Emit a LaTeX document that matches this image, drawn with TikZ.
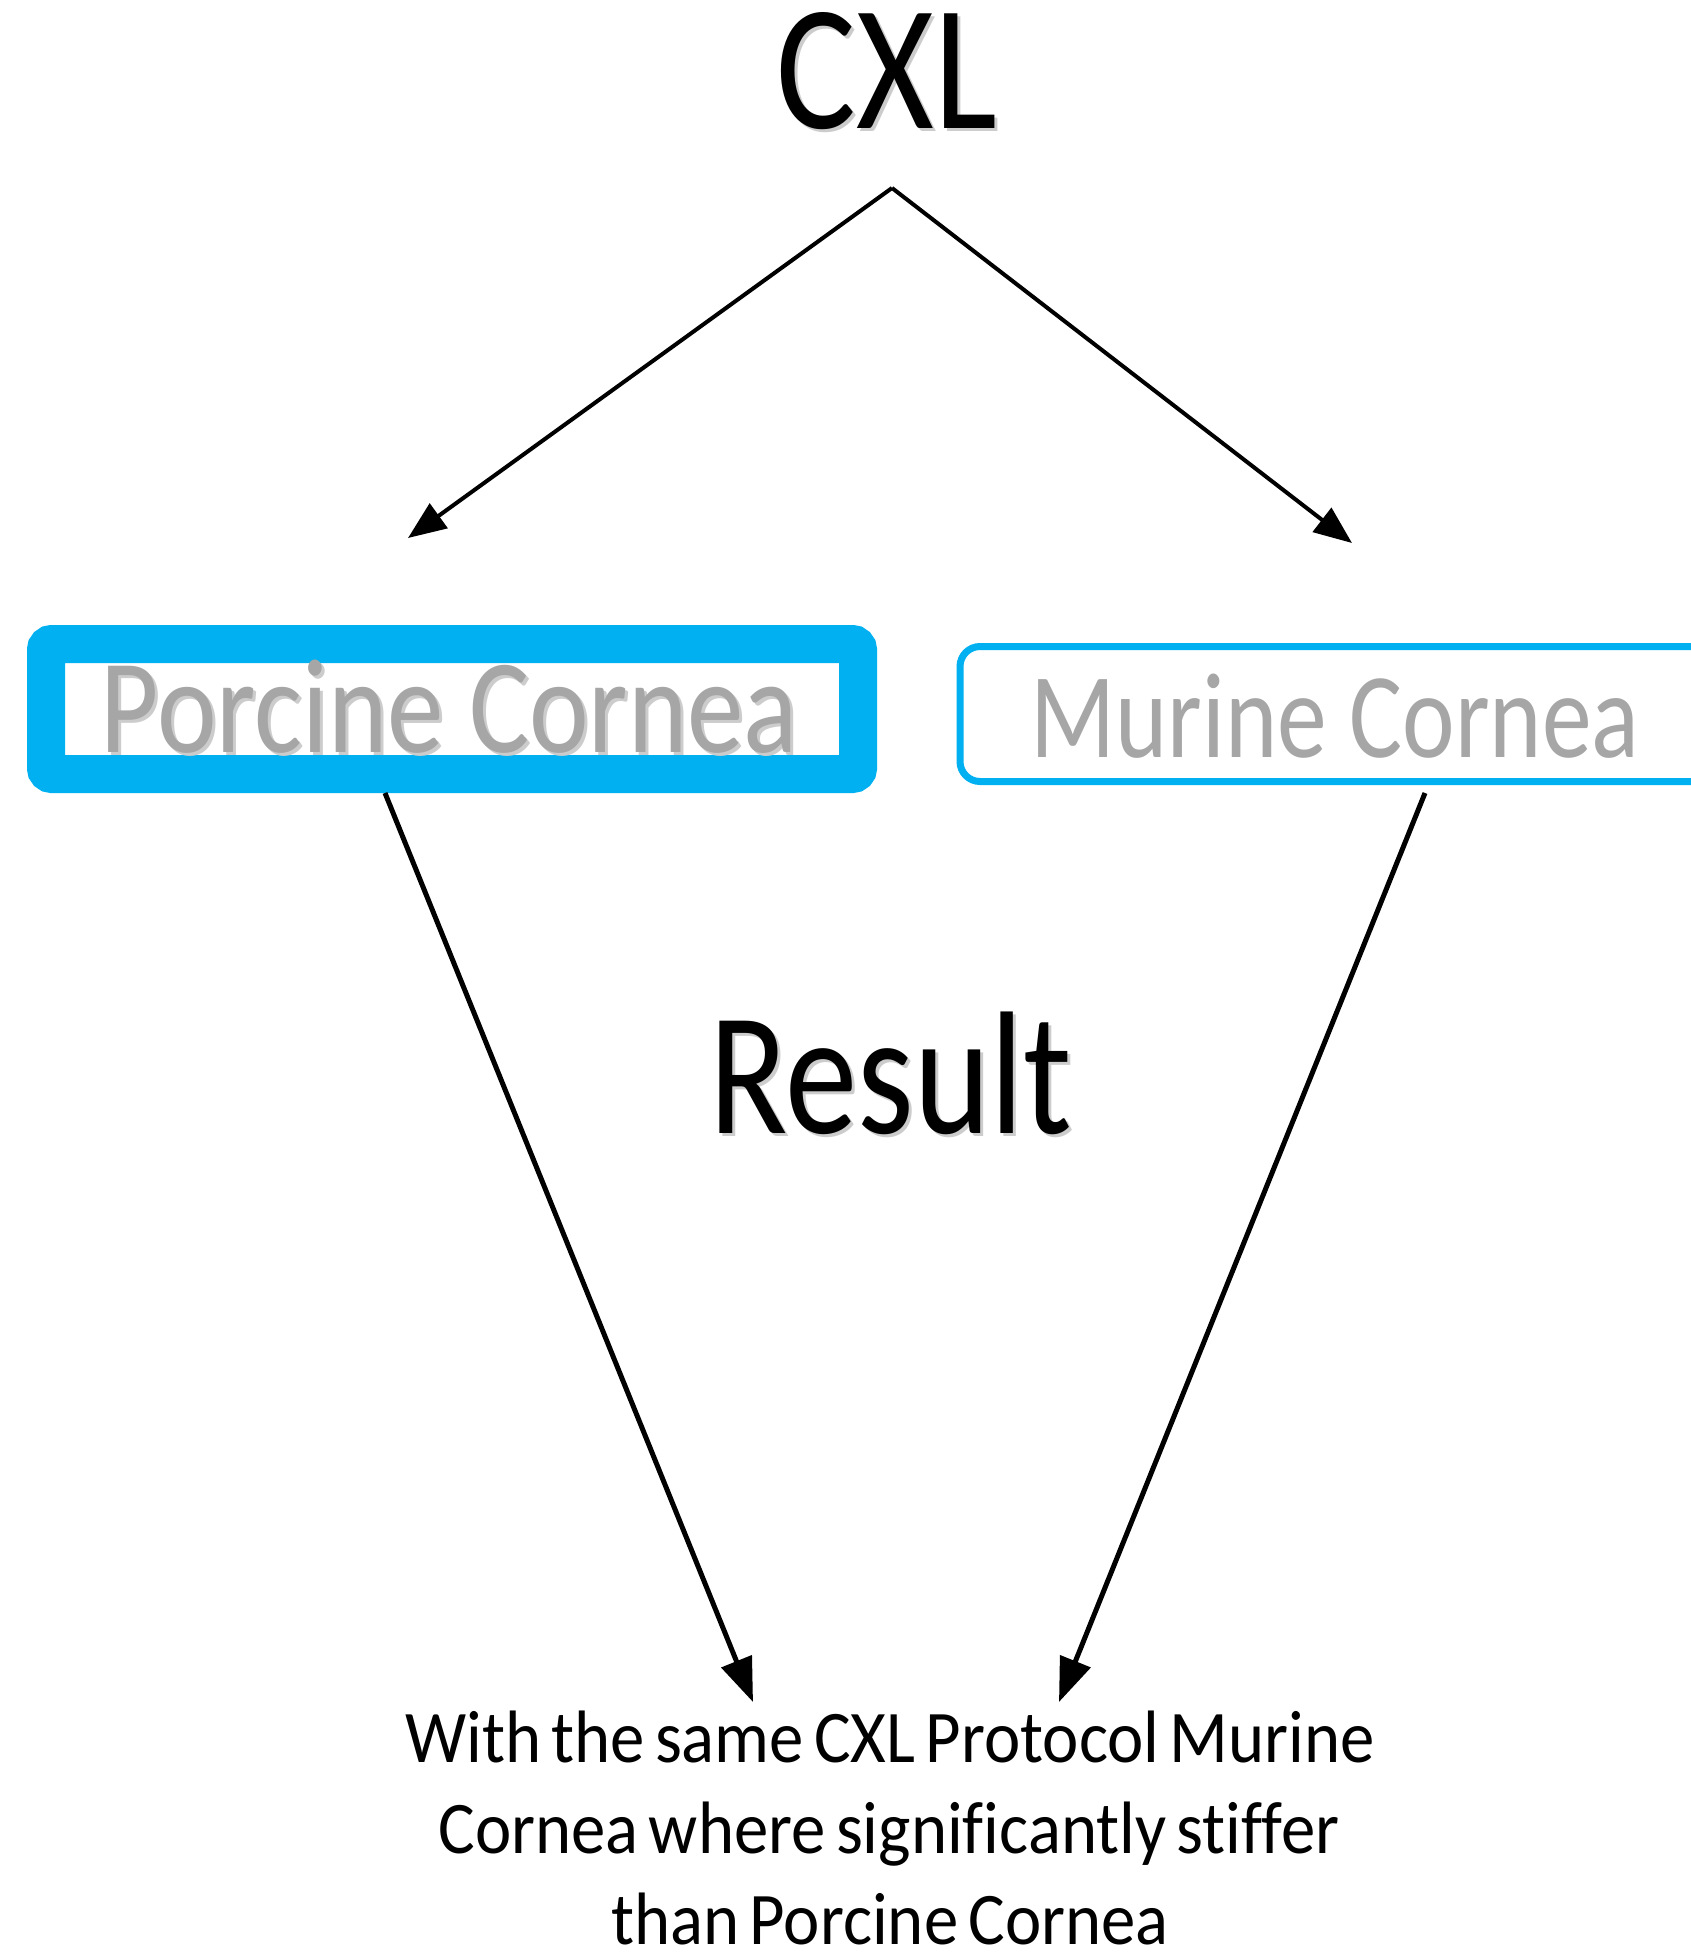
\documentclass[tikz,border=0pt]{standalone}
\usepackage{fontspec}
\setmainfont{Carlito}[Ligatures=NoCommon]
\usetikzlibrary{arrows.meta}
\definecolor{cxlcyan}{HTML}{00B0F0}
\definecolor{labelgray}{HTML}{A6A6A6}
\newcommand{\vstretch}[2]{\scalebox{1}[#1]{#2}}
\newcommand{\conclline}[1]{\fontsize{64}{64}\selectfont\spaceskip=0.15em\scalebox{1.074}[1.16]{#1}}
\begin{document}
\begin{tikzpicture}[x=1pt,y=-1pt,
  txt/.style={anchor=base,inner sep=0pt,text=black},
  shadowtxt/.style={anchor=base,inner sep=0pt,text=black!20},
  arrowup/.style={line width=4pt,-{Triangle[length=38pt,width=30pt]}},
  arrowdown/.style={line width=5pt,-{Triangle[length=44pt,width=32pt]}},
  thickbox/.style={draw=cxlcyan,line width=38pt,rounded corners=6pt,inner sep=0pt},
  thinbox/.style={draw=cxlcyan,line width=7pt,rounded corners=20pt,inner sep=0pt},
  ]
\useasboundingbox (0,0) rectangle (1691,1957);
\clip (0,0) rectangle (1691,1957);
\fill[white] (0,0) rectangle (1691,1957);

% title
\node[shadowtxt] at (890,131) {\fontsize{149.5}{150}\selectfont\vstretch{1.196}{CXL}};
\node[txt] (cxl) at (887,128) {\fontsize{149.5}{150}\selectfont\vstretch{1.196}{CXL}};

% boxes
\node[thickbox,minimum width=812pt,minimum height=130pt] (porcine) at (452,709) {};
\node[thinbox,minimum width=760pt,minimum height=135pt] (murine) at (1340,714) {};
\node[shadowtxt] at (452.5,755) {\fontsize{113}{114}\selectfont\vstretch{1.19}{Porcine Cornea}};
\node[txt,text=labelgray] (porcinetxt) at (449.5,752) {\fontsize{113}{114}\selectfont\vstretch{1.19}{Porcine Cornea}};
\node[txt,text=labelgray] (murinetxt) at (1335,757) {\fontsize{99.5}{100}\selectfont\vstretch{1.22}{Murine Cornea}};

% result
\node[shadowtxt] at (893.5,1136) {\fontsize{144.7}{145}\selectfont\vstretch{1.21}{Result}};
\node[txt] (result) at (890.5,1133) {\fontsize{144.7}{145}\selectfont\vstretch{1.21}{Result}};

% conclusion
\node[txt] (concl1) at (890,1762) {\conclline{With the same CXL Protocol Murine}};
\node[txt] (concl2) at (889,1853) {\conclline{Cornea where significantly stiffer}};
\node[txt] (concl3) at (890,1944) {\conclline{than Porcine Cornea}};

% connector end points
\coordinate (apex) at (892,188);
\coordinate (ltip) at (408,538);
\coordinate (rtip) at (1352,543);
\coordinate (pstart) at (385,793);
\coordinate (mstart) at (1425,793);
\coordinate (lend) at (753,1702);
\coordinate (rend) at (1059,1702);

\draw[arrowup] (apex) -- (ltip);
\draw[arrowup] (apex) -- (rtip);
\draw[arrowdown] (pstart) -- (lend);
\draw[arrowdown] (mstart) -- (rend);
\end{tikzpicture}
\end{document}
